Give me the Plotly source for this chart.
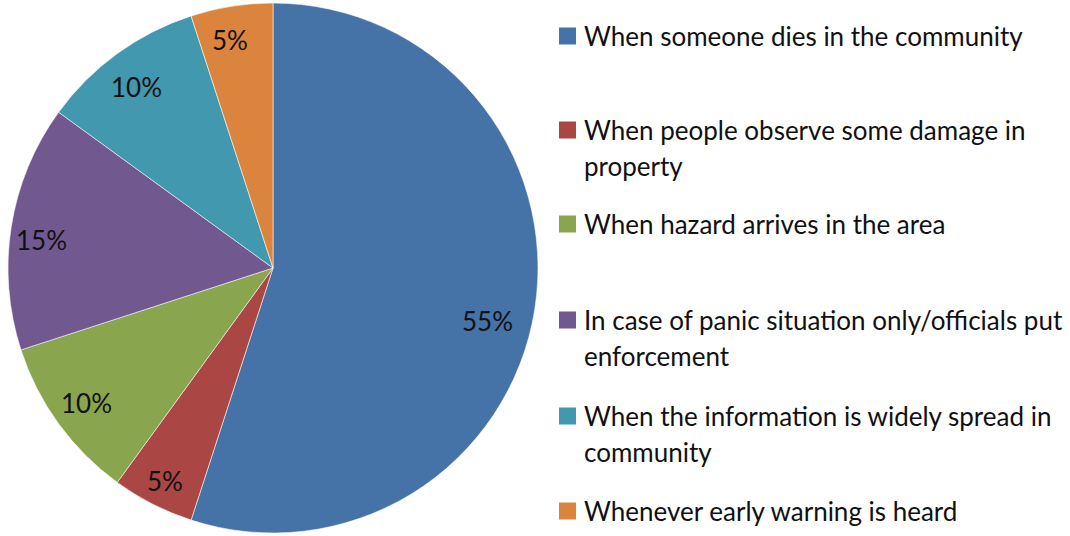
import math
import plotly.graph_objects as go

# Survey responses: when people decide to act
labels = [
    "When someone dies in the community",
    "When people observe some damage in<br>property",
    "When hazard arrives in the area",
    "In case of panic situation only/officials put<br>enforcement",
    "When the information is widely spread in<br>community",
    "Whenever early warning is heard",
]
values = [55, 5, 10, 15, 10, 5]
colors = ["#4572A7", "#AA4643", "#89A54E", "#71588F", "#4198AF", "#DB843D"]

W, H = 1070, 536
FONT = "Lato"
FS = 26
TXT = "#111111"

# pie geometry in pixels (paper space)
cx, cy, R = 273, 268, 265

fig = go.Figure(go.Pie(
    labels=[l.replace("<br>", " ") for l in labels],
    values=values,
    marker=dict(colors=colors, line=dict(color="rgba(255,255,255,0.7)", width=0.8)),
    sort=False,
    direction="clockwise",
    rotation=0,
    textinfo="none",
    hoverinfo="label+percent",
    showlegend=False,
    domain=dict(x=[(cx - R) / W, (cx + R) / W], y=[(H - cy - R) / H, (H - cy + R) / H]),
))

annotations = []
shapes = []

# percentage labels placed along each slice's mid-angle
total = sum(values)
label_r = [0.834, 0.9, 0.868, 0.88, 0.853, 0.875]
angle_nudge = [-4.8, 0, 0, 2, 1, 1.7]
cum = 0
for i, v in enumerate(values):
    mid = (cum + v / 2) / total
    cum += v
    ang = math.radians(90 - mid * 360 + angle_nudge[i])
    px = cx + R * label_r[i] * math.cos(ang)
    py = cy - R * label_r[i] * math.sin(ang)
    annotations.append(dict(
        x=px / W, y=1 - py / H, xref="paper", yref="paper",
        text=f"{round(100 * v / total)}%", showarrow=False,
        xanchor="center", yanchor="middle",
        font=dict(family=FONT, size=FS, color=TXT),
    ))

# legend: colour squares with wrapped labels
legend_y = [36, 130, 224, 320, 416, 511]
line_gap = 36
sq = 17
for i, lab in enumerate(labels):
    y0 = legend_y[i]
    shapes.append(dict(
        type="rect", xref="paper", yref="paper",
        x0=559 / W, x1=(559 + sq) / W,
        y0=1 - (y0 + sq / 2) / H, y1=1 - (y0 - sq / 2) / H,
        fillcolor=colors[i], line=dict(width=0),
    ))
    for j, line in enumerate(lab.split("<br>")):
        annotations.append(dict(
            x=582 / W, y=1 - (y0 + j * line_gap) / H, xref="paper", yref="paper",
            text=line, showarrow=False, xanchor="left", yanchor="middle",
            font=dict(family=FONT, size=FS, color=TXT),
        ))

fig.update_layout(
    width=W, height=H,
    margin=dict(l=0, r=0, t=0, b=0),
    paper_bgcolor="white", plot_bgcolor="white",
    annotations=annotations, shapes=shapes,
)

fig.write_html("out.html")
